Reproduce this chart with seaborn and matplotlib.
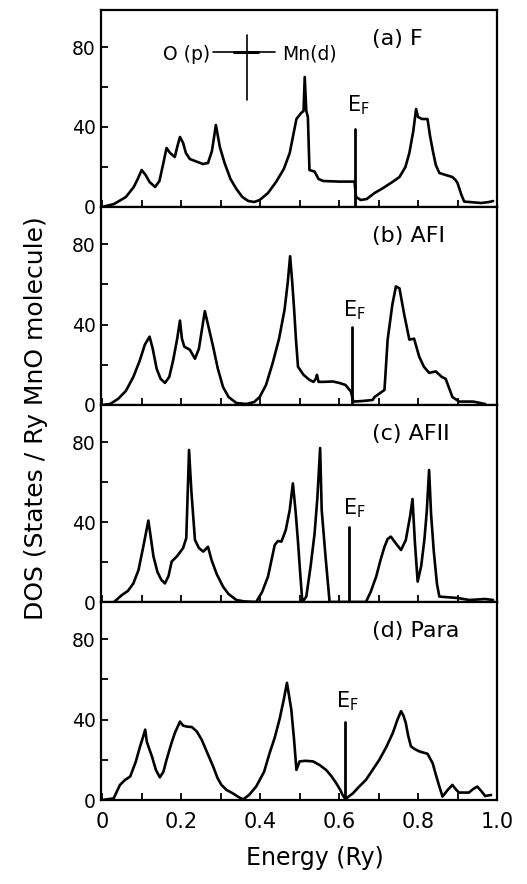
import numpy as np
import pandas as pd
import matplotlib
matplotlib.use("Agg")
import matplotlib.pyplot as plt
import seaborn as sns

# ---------------- data ----------------
panel_labels = ["(a) F", "(b) AFI", "(c) AFII", "(d) Para"]

energy_a = [0.0, 0.03, 0.06, 0.08, 0.09, 0.10, 0.11, 0.12, 0.134, 0.145, 0.155, 0.163,
            0.172, 0.184, 0.19, 0.197, 0.205, 0.212, 0.222, 0.239, 0.255, 0.268, 0.278,
            0.288, 0.298, 0.31, 0.325, 0.34, 0.355, 0.37, 0.385, 0.399, 0.42, 0.441,
            0.46, 0.475, 0.485, 0.492, 0.504, 0.510, 0.513, 0.517, 0.521, 0.525, 0.538,
            0.548, 0.56, 0.60, 0.639, 0.643, 0.655, 0.67, 0.69, 0.71, 0.735, 0.753,
            0.768, 0.778, 0.788, 0.795, 0.80, 0.81, 0.824, 0.83, 0.837, 0.845, 0.854,
            0.87, 0.887, 0.895, 0.90, 0.91, 0.917, 0.96, 0.98, 0.99]
dos_a = [0, 1.5, 5, 10, 14, 18.5, 16, 12.5, 10, 13, 22, 29.5,
         27, 25, 30, 35, 32, 27, 24, 22.7, 21.5, 22, 28,
         41, 30, 22, 14, 9, 5, 3, 2.5, 3.5, 7, 12.7,
         19, 27, 37, 44, 47, 48, 65, 48, 45, 18.5, 17.7,
         14, 13, 12.7, 12.7, 5, 3.5, 4, 7, 9.3, 12.5, 15,
         20, 27, 38, 49, 45, 44, 44, 36, 28.5, 21, 17,
         16, 15, 13.5, 12, 6, 2.7, 2, 2.5, 3]

energy_b = [0.0, 0.02, 0.04, 0.06, 0.079, 0.095, 0.108, 0.12, 0.128, 0.138, 0.148, 0.159,
            0.17, 0.18, 0.19, 0.197, 0.202, 0.208, 0.222, 0.235, 0.245, 0.253, 0.26,
            0.268, 0.281, 0.293, 0.306, 0.32, 0.34, 0.365, 0.385, 0.399, 0.415, 0.432,
            0.448, 0.462, 0.47, 0.476, 0.481, 0.486, 0.491, 0.496, 0.51, 0.525, 0.535,
            0.541, 0.544, 0.548, 0.56, 0.584, 0.60, 0.616, 0.63, 0.636, 0.66, 0.685,
            0.69, 0.715, 0.723, 0.735, 0.744, 0.753, 0.765, 0.778, 0.79, 0.803, 0.815,
            0.828, 0.845, 0.86, 0.87, 0.887, 0.904, 0.94, 0.97]
dos_b = [0, 0.5, 3, 7, 14, 22, 30, 34, 28, 18, 13, 11,
         14, 22.5, 33, 42, 33, 29, 27.5, 23, 28, 38, 46.7,
         40, 29, 18, 9, 4, 1, 0.5, 1.5, 4, 10, 21,
         33, 47.5, 61, 74, 62, 48, 32, 19, 15, 12.5, 11.5,
         13, 15, 11.5, 11.5, 11.7, 11, 10, 6.7, 1.7, 2, 2.5,
         4, 7.5, 32.5, 50, 59, 58, 45, 32.5, 33, 24, 19,
         16, 16.7, 14, 13, 4, 1.7, 1.7, 0.5]

energy_c = [0.03, 0.05, 0.065, 0.079, 0.092, 0.104, 0.117, 0.124, 0.13, 0.14, 0.15, 0.159,
            0.168, 0.176, 0.19, 0.205, 0.213, 0.22, 0.226, 0.235, 0.245, 0.256, 0.268,
            0.277, 0.29, 0.306, 0.32, 0.34, 0.36, 0.39, 0.405, 0.42, 0.43, 0.437,
            0.445, 0.454, 0.465, 0.475, 0.483, 0.49, 0.496, 0.502, 0.507, 0.517, 0.528,
            0.538, 0.545, 0.552, 0.556, 0.566, 0.576, 0.668, 0.68, 0.694, 0.705, 0.715,
            0.723, 0.731, 0.745, 0.757, 0.769, 0.78, 0.786, 0.792, 0.799, 0.808, 0.816,
            0.822, 0.828, 0.833, 0.84, 0.848, 0.854, 0.90, 0.93, 0.97, 0.99]
dos_c = [0, 3.5, 5.5, 9.3, 16, 27.6, 40.7, 31, 22.7, 15, 11, 9.3,
         13, 20.2, 23, 27, 32, 76, 55, 31, 27, 25.2, 27.6,
         21, 14, 7.7, 4, 1, 0.3, 0, 5, 12.7, 22, 28.5,
         30.5, 30.2, 36, 46, 59.3, 45, 30, 13, 0, 2.7, 18,
         34.3, 52, 77, 46, 22, 0, 0, 5, 12.7, 21, 27.6,
         31.5, 32.7, 29, 26, 31, 43, 51.5, 30, 10.2, 18, 31,
         45, 66, 44, 25, 9, 2.7, 2, 1, 1.5, 1]

energy_d = [0.0, 0.029, 0.045, 0.058, 0.071, 0.085, 0.096, 0.103, 0.109, 0.113, 0.12, 0.126,
            0.136, 0.146, 0.155, 0.163, 0.175, 0.184, 0.197, 0.205, 0.215, 0.227, 0.24,
            0.252, 0.265, 0.281, 0.292, 0.302, 0.315, 0.331, 0.345, 0.357, 0.372, 0.39,
            0.41, 0.424, 0.437, 0.449, 0.46, 0.468, 0.474, 0.479, 0.486, 0.492, 0.50,
            0.515, 0.534, 0.55, 0.567, 0.58, 0.593, 0.603, 0.609, 0.616, 0.635, 0.65,
            0.668, 0.685, 0.702, 0.72, 0.736, 0.748, 0.757, 0.763, 0.769, 0.775, 0.782,
            0.79, 0.803, 0.815, 0.824, 0.837, 0.846, 0.854, 0.862, 0.875, 0.887, 0.897,
            0.904, 0.929, 0.94, 0.95, 0.96, 0.97, 0.985]
dos_d = [0, 0.8, 7.5, 10, 11.7, 19, 26.7, 31, 35, 29, 25, 21.7,
         15, 11.3, 14, 20, 28, 33.3, 39, 37, 36.5, 36.3, 34,
         30, 24, 16.7, 11, 7.5, 5, 3.3, 1.5, 0.3, 2.5, 6.7,
         14, 23.3, 31, 40, 50, 58.3, 51, 45, 30, 15, 19.2,
         19.5, 19.2, 17.5, 15, 12, 8.3, 5, 2.5, 0.5, 3.3, 6.5,
         10, 15, 20, 26.5, 33.3, 40, 44.2, 42, 38.3, 32, 26.7,
         25.5, 24.2, 23.5, 23, 18.3, 12, 6.7, 1.7, 5, 7.5, 5,
         3.7, 3.7, 5.5, 6.7, 4.5, 2, 2.5]

fermi_energy = [0.64, 0.633, 0.626, 0.615]
fermi_height = [38.8, 38.8, 37.7, 38.7]
ef_label_pos = [(0.621, 45), (0.609, 41.5), (0.609, 41), (0.593, 43.5)]

x_ticks_major = [0.0, 0.2, 0.4, 0.6, 0.8, 1.0]
x_tick_labels = ["0", "0.2", "0.4", "0.6", "0.8", "1.0"]
y_ticks_major = [0, 40, 80]
y_tick_labels = ["0", "40", "80"]

energies = [energy_a, energy_b, energy_c, energy_d]
dos = [dos_a, dos_b, dos_c, dos_d]

# ---------------- style ----------------
sns.set_style("white")
plt.rcParams["font.family"] = ["DejaVu Sans"]
plt.rcParams["mathtext.default"] = "regular"
for key in ["text.color", "axes.labelcolor", "xtick.color", "ytick.color", "axes.edgecolor"]:
    plt.rcParams[key] = "black"

W, H = 527, 884
fig = plt.figure(figsize=(W / 100, H / 100), dpi=100)

left_px, right_px = 101, 497
panel_tops = [10, 207, 405, 602]
panel_bottoms = [207, 405, 602, 800]

for i in range(4):
    top, bot = panel_tops[i], panel_bottoms[i]
    ax = fig.add_axes([left_px / W, 1 - bot / H, (right_px - left_px) / W, (bot - top) / H])
    df = pd.DataFrame({"Energy": energies[i], "DOS": dos[i]})
    sns.lineplot(data=df, x="Energy", y="DOS", ax=ax, color="black", lw=1.9,
                 estimator=None, sort=False)
    ax.set_xlim(-0.003, 1.0)
    ax.set_ylim(0, 98.5)
    ax.set_xlabel("")
    ax.set_ylabel("")

    # Fermi level marker
    ax.plot([fermi_energy[i], fermi_energy[i]], [0, fermi_height[i]], color="black", lw=2.0)
    ax.text(ef_label_pos[i][0], ef_label_pos[i][1], r"E$_F$", fontsize=15,
            ha="left", va="bottom")

    # panel label
    ax.text(0.684, 84, panel_labels[i], fontsize=16, ha="left", va="center")

    # ticks
    ax.set_xticks(x_ticks_major)
    ax.set_xticks(np.arange(0.1, 1.0, 0.2), minor=True)
    ax.set_yticks(y_ticks_major)
    ax.set_yticklabels(y_tick_labels)
    ax.set_yticks([20, 60], minor=True)
    ax.tick_params(axis="both", which="both", direction="in", length=5, width=1.3,
                   bottom=True, left=True, top=False, right=False)
    ax.tick_params(axis="y", which="major", labelsize=13.5, pad=4)
    if i == 3:
        ax.set_xticklabels(x_tick_labels)
        ax.tick_params(axis="x", which="major", labelsize=15, pad=9)
        ax.set_xlabel("Energy (Ry)", fontsize=17)
        ax.xaxis.set_label_coords((315 - left_px) / (right_px - left_px), -0.23)
        ax.xaxis.label.set_va("top")
    else:
        ax.set_xticklabels([])

    for sp in ax.spines.values():
        sp.set_linewidth(1.6)
        sp.set_color("black")

    if i == 0:
        # orbital-character cross marker
        ax.plot([0.28, 0.437], [77.5, 77.5], color="black", lw=1.2)
        ax.plot([0.366, 0.366], [53.5, 86], color="black", lw=1.2)
        ax.plot([0.335, 0.395], [77.5, 77.5], color="black", lw=2.2)
        ax.text(0.273, 76.5, "O (p)", fontsize=13.5, ha="right", va="center")
        ax.text(0.455, 76.5, "Mn(d)", fontsize=13.5, ha="left", va="center")

fig.text(36 / W, 1 - 418 / H, "DOS (States / Ry MnO molecule)", rotation=90,
         fontsize=18, ha="center", va="center")

fig.savefig("out.png", dpi=100)
